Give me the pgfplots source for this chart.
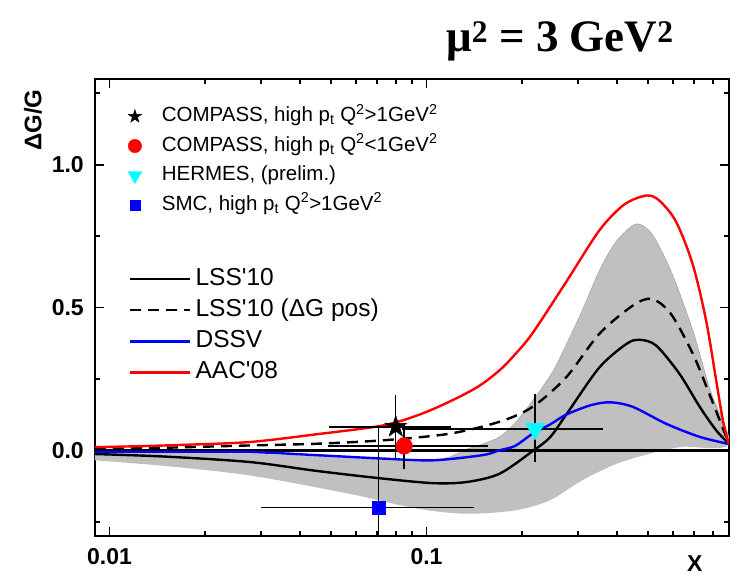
\documentclass[border=0pt]{standalone}
\usepackage{fontspec}
\setmainfont{Liberation Sans}
\newfontfamily\timesfont{Liberation Serif}
\usepackage{pgfplots}
\pgfplotsset{compat=1.18}
\definecolor{silv}{RGB}{192,192,192}
\definecolor{cred}{RGB}{255,0,0}
\definecolor{cblue}{RGB}{0,0,255}
\definecolor{ccyan}{RGB}{0,255,255}
\pgfdeclareplotmark{fstar}{%
  \pgfpathmoveto{\pgfpointpolar{90}{\pgfplotmarksize}}%
  \pgfpathlineto{\pgfpointpolar{126}{0.382\pgfplotmarksize}}%
  \pgfpathlineto{\pgfpointpolar{162}{\pgfplotmarksize}}%
  \pgfpathlineto{\pgfpointpolar{198}{0.382\pgfplotmarksize}}%
  \pgfpathlineto{\pgfpointpolar{234}{\pgfplotmarksize}}%
  \pgfpathlineto{\pgfpointpolar{270}{0.382\pgfplotmarksize}}%
  \pgfpathlineto{\pgfpointpolar{306}{\pgfplotmarksize}}%
  \pgfpathlineto{\pgfpointpolar{342}{0.382\pgfplotmarksize}}%
  \pgfpathlineto{\pgfpointpolar{18}{\pgfplotmarksize}}%
  \pgfpathlineto{\pgfpointpolar{54}{0.382\pgfplotmarksize}}%
  \pgfpathclose
  \pgfusepathqfillstroke}
\begin{document}
\begin{tikzpicture}
\useasboundingbox (0,0) rectangle (737pt,577pt);
\begin{axis}[xmode=log, xmin=0.009, xmax=0.9, ymin=-0.3, ymax=1.3,
  scale only axis, width=634pt, height=457pt,
  at={(95pt,41pt)}, anchor=south west,
  axis line style={line width=2pt},
  xtick={0.01,0.1}, xticklabels={0.01,0.1},
  minor xtick={0.02,0.03,0.04,0.05,0.06,0.07,0.08,0.09,0.2,0.3,0.4,0.5,0.6,0.7,0.8},
  ytick={0,0.5,1}, yticklabels={0.0,0.5,1.0},
  minor ytick={-0.25,0.25,0.75,1.25},
  tick align=inside, major tick length=9pt, minor tick length=5pt,
  every tick/.style={black, line width=1.8pt},
  tick label style={font=\bfseries\fontsize{23}{27}\selectfont, inner sep=0pt},
  xticklabel style={yshift=-12pt},
  yticklabel style={xshift=-11pt},
  xlabel={X}, ylabel={ΔG/G},
  xlabel style={at={(axis description cs:0.946,-0.061)}, anchor=center, font=\bfseries\fontsize{23}{27}\selectfont},
  ylabel style={at={(axis description cs:-0.098,0.91)}, anchor=center, font=\bfseries\fontsize{24}{28}\selectfont},
  legend style={at={(axis description cs:0.0489,0.5914)}, anchor=north west, draw=none, fill=none,
    font=\fontsize{24.5}{28}\selectfont, row sep=8.6pt,
    nodes={inner sep=0pt, text height=17.5pt, text depth=5pt},
    /tikz/every odd column/.append style={column sep=4pt}},
  legend cell align=left,
  legend image code/.code={\draw[#1] (0pt,0pt) -- (60pt,0pt);},
]
\addplot[fill=silv, draw=none, smooth, forget plot] coordinates {
(0.009,-0.004) (0.015,-0.006) (0.0277,-0.012) (0.045,-0.02) (0.073,-0.032) (0.1,-0.035) (0.12,-0.02) (0.134,0.004) (0.15,0.022) (0.17,0.047) (0.19,0.095) (0.22,0.185) (0.25,0.275) (0.276,0.37) (0.31,0.49) (0.351,0.629) (0.39,0.72) (0.428,0.77) (0.464,0.793) (0.514,0.758) (0.59,0.629) (0.692,0.42) (0.78,0.221) (0.9,0.022)
(0.64,0.012) (0.505,-0.012) (0.398,-0.047) (0.31,-0.105) (0.245,-0.175) (0.191,-0.21) (0.134,-0.222) (0.093,-0.204) (0.057,-0.152) (0.0277,-0.088) (0.015,-0.055) (0.009,-0.035)} -- cycle;
\addplot[draw=gray!80, line width=0.4pt, smooth, forget plot] coordinates {
(0.12,-0.02) (0.134,0.004) (0.15,0.022) (0.17,0.047) (0.19,0.095) (0.22,0.185) (0.25,0.275) (0.276,0.37) (0.31,0.49) (0.351,0.629) (0.39,0.72) (0.428,0.77) (0.464,0.793) (0.514,0.758) (0.59,0.629) (0.692,0.42) (0.78,0.221) (0.9,0.022)};
\addplot[black, line width=2.6pt, forget plot] coordinates {(0.009,0) (0.9,0)};
\addplot[black, line width=2.4pt, smooth] coordinates {
(0.009,-0.013) (0.015,-0.022) (0.0277,-0.041) (0.0449,-0.072) (0.0729,-0.099) (0.105,-0.115) (0.134,-0.111) (0.17,-0.082) (0.216,-0.003) (0.245,0.045) (0.276,0.125) (0.351,0.29) (0.428,0.373) (0.47,0.387) (0.53,0.367) (0.628,0.268) (0.728,0.152) (0.82,0.07) (0.9,0.022)};
\addlegendentry{LSS\textquotesingle 10}
\addplot[black, line width=2.4pt, dash pattern=on 11pt off 7pt, smooth] coordinates {
(0.009,0.004) (0.015,0.009) (0.0277,0.017) (0.045,0.023) (0.073,0.035) (0.118,0.058) (0.17,0.10) (0.216,0.152) (0.276,0.256) (0.351,0.408) (0.448,0.507) (0.514,0.53) (0.59,0.478) (0.692,0.338) (0.78,0.198) (0.9,0.022)};
\addlegendentry{LSS\textquotesingle 10 (ΔG pos)}
\addplot[cblue, line width=2.4pt, smooth] coordinates {
(0.009,-0.005) (0.015,-0.005) (0.0277,-0.006) (0.045,-0.017) (0.073,-0.029) (0.105,-0.035) (0.15,-0.017) (0.17,0.0) (0.19,0.015) (0.216,0.058) (0.245,0.09) (0.276,0.125) (0.33,0.158) (0.38,0.168) (0.448,0.152) (0.57,0.093) (0.728,0.047) (0.9,0.022)};
\addlegendentry{DSSV}
\addplot[cred, line width=2.4pt, smooth] coordinates {
(0.009,0.011) (0.012,0.014) (0.017,0.019) (0.0277,0.029) (0.0449,0.056) (0.0729,0.087) (0.095,0.125) (0.118,0.17) (0.145,0.222) (0.17,0.28) (0.19,0.335) (0.216,0.41) (0.276,0.59) (0.351,0.77) (0.42,0.86) (0.494,0.892) (0.543,0.874) (0.613,0.80) (0.692,0.65) (0.762,0.455) (0.82,0.245) (0.861,0.105) (0.9,0.02)};
\addlegendentry{AAC\textquotesingle 08}
\end{axis}
\begin{axis}[xmode=log, xmin=0.009, xmax=0.9, ymin=-0.3, ymax=1.3,
  scale only axis, width=634pt, height=457pt,
  at={(95pt,41pt)}, anchor=south west, hide axis,
  legend style={at={(axis description cs:0.047,0.944)}, anchor=north west, draw=none, fill=none,
    font=\fontsize{20.5}{24}\selectfont, row sep=10pt,
    nodes={inner sep=0pt, text height=15pt, text depth=4.5pt},
    /tikz/every odd column/.append style={column sep=20pt}},
  legend cell align=left,
  legend image code/.code={\draw[mark repeat=2,mark phase=2,#1] plot coordinates {(0pt,0pt) (8pt,0pt) (16pt,0pt)};},
  error bars/error bar style={black, line width=1.3pt},
]
\addlegendimage{only marks, mark=fstar, mark size=7pt, black}
\addlegendentry{COMPASS, high p\textsubscript{t} Q\textsuperscript{2}>1GeV\textsuperscript{2}}
\addlegendimage{only marks, mark=*, mark size=6.7pt, cred}
\addlegendentry{COMPASS, high p\textsubscript{t} Q\textsuperscript{2}<1GeV\textsuperscript{2}}
\addlegendimage{only marks, mark=triangle*, mark size=8pt, ccyan, mark options={rotate=180}}
\addlegendentry{HERMES, (prelim.)}
\addlegendimage{only marks, mark=square*, mark size=5pt, cblue}
\addlegendentry{SMC, high p\textsubscript{t} Q\textsuperscript{2}>1GeV\textsuperscript{2}}
\addplot[only marks, mark=square*, mark size=6.5pt, cblue, forget plot,
  error bars/.cd, x dir=both, x explicit, y dir=both, y explicit, error mark=none]
  coordinates {(0.0706,-0.2) += (0.071,0.28) -= (0.0405,0.28)};
\addplot[only marks, mark=triangle*, mark size=11pt, ccyan, mark options={rotate=180}, forget plot,
  error bars/.cd, x dir=both, x explicit, y dir=both, y explicit, error mark=none]
  coordinates {(0.22,0.075) += (0.141,0.123) -= (0.136,0.117)};
\addplot[only marks, mark=*, mark size=8.3pt, cred, forget plot,
  error bars/.cd, x dir=both, x explicit, y dir=both, y explicit, error mark=none]
  coordinates {(0.085,0.015) += (0.071,0.079) -= (0.036,0.079)};
\addplot[only marks, mark=fstar, mark size=11.5pt, black, forget plot,
  error bars/.cd, x dir=both, x explicit, y dir=both, y explicit, error mark=none]
  coordinates {(0.08,0.082) += (0.0397,0.11) -= (0.0306,0.117)};
\end{axis}
\node[font=\timesfont\bfseries\fontsize{45}{50}\selectfont, anchor=base] at (560pt,525pt) {μ\textsuperscript{2} = 3 GeV\textsuperscript{2}};
\end{tikzpicture}
\end{document}
